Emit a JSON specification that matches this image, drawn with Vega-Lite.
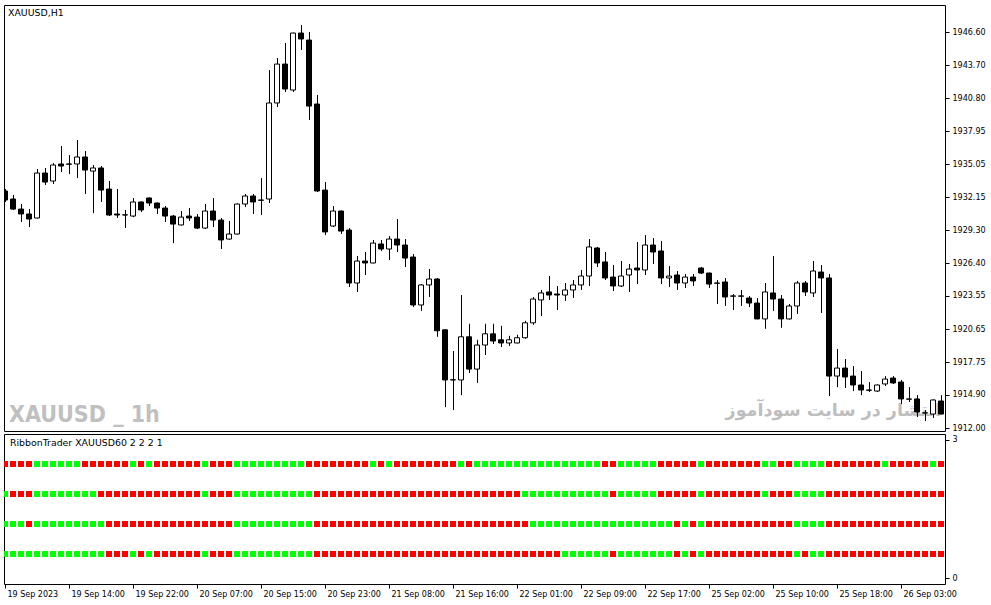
{
"$schema": "https://vega.github.io/schema/vega-lite/v6.json",
"background": "white",
"padding": {"left": 3, "top": 4, "right": 0, "bottom": 0},
"spacing": 3,
"bounds": "flush",
"config": {
  "view": {"stroke": "black", "strokeWidth": 1},
  "font": "DejaVu Sans",
  "axis": {"labelFont": "DejaVu Sans", "labelFontSize": 8, "labelColor": "black", "tickColor": "black", "tickSize": 4, "domain": false, "grid": false, "labelPadding": 3, "labelOverlap": false, "labelBound": false, "labelFlush": false},
  "title": {"font": "DejaVu Sans", "fontSize": 9.4, "fontWeight": "normal", "color": "black", "anchor": "start"}
},
"datasets": {
  "notes": [
    {"i": 0.5, "p": 1912.52, "label": "XAUUSD _ 1h"}
  ],
  "notes2": [
    {"i": 117.0, "p": 1913.49, "label": "انتشار در سایت سودآموز"}
  ],
  "bars": [
{"i":0,"o":1932.71,"h":1932.88,"l":1931.75,"c":1931.92,"s1":"R","s2":"G","s3":"G","s4":"G"},
{"i":1,"o":1932.01,"h":1932.36,"l":1931.05,"c":1931.13,"s1":"R","s2":"R","s3":"G","s4":"G"},
{"i":2,"o":1931.13,"h":1931.57,"l":1930.00,"c":1930.70,"s1":"R","s2":"R","s3":"G","s4":"G"},
{"i":3,"o":1930.70,"h":1931.13,"l":1929.56,"c":1930.26,"s1":"R","s2":"R","s3":"R","s4":"G"},
{"i":4,"o":1930.35,"h":1934.63,"l":1930.30,"c":1934.28,"s1":"G","s2":"G","s3":"G","s4":"G"},
{"i":5,"o":1934.28,"h":1934.72,"l":1933.23,"c":1933.49,"s1":"G","s2":"G","s3":"G","s4":"G"},
{"i":6,"o":1933.58,"h":1935.15,"l":1933.32,"c":1934.98,"s1":"G","s2":"G","s3":"G","s4":"G"},
{"i":7,"o":1935.07,"h":1936.64,"l":1934.37,"c":1934.89,"s1":"G","s2":"G","s3":"G","s4":"G"},
{"i":8,"o":1935.07,"h":1935.85,"l":1934.19,"c":1935.05,"s1":"G","s2":"G","s3":"G","s4":"G"},
{"i":9,"o":1935.07,"h":1937.16,"l":1933.84,"c":1935.68,"s1":"G","s2":"G","s3":"G","s4":"G"},
{"i":10,"o":1935.68,"h":1936.20,"l":1932.45,"c":1934.54,"s1":"R","s2":"G","s3":"G","s4":"G"},
{"i":11,"o":1934.45,"h":1934.98,"l":1930.78,"c":1934.72,"s1":"R","s2":"G","s3":"G","s4":"G"},
{"i":12,"o":1934.72,"h":1934.89,"l":1931.75,"c":1932.79,"s1":"R","s2":"R","s3":"G","s4":"G"},
{"i":13,"o":1932.88,"h":1933.58,"l":1930.52,"c":1930.61,"s1":"R","s2":"R","s3":"R","s4":"R"},
{"i":14,"o":1930.70,"h":1932.88,"l":1930.35,"c":1930.61,"s1":"R","s2":"R","s3":"R","s4":"R"},
{"i":15,"o":1930.61,"h":1931.05,"l":1929.47,"c":1930.63,"s1":"R","s2":"R","s3":"R","s4":"R"},
{"i":16,"o":1930.52,"h":1932.10,"l":1930.43,"c":1931.75,"s1":"G","s2":"R","s3":"R","s4":"G"},
{"i":17,"o":1931.75,"h":1931.80,"l":1930.87,"c":1931.05,"s1":"R","s2":"R","s3":"R","s4":"R"},
{"i":18,"o":1932.10,"h":1932.15,"l":1931.40,"c":1931.66,"s1":"G","s2":"R","s3":"R","s4":"G"},
{"i":19,"o":1931.66,"h":1931.70,"l":1930.70,"c":1931.22,"s1":"R","s2":"R","s3":"R","s4":"R"},
{"i":20,"o":1931.22,"h":1931.40,"l":1930.00,"c":1930.52,"s1":"R","s2":"R","s3":"R","s4":"R"},
{"i":21,"o":1930.52,"h":1930.61,"l":1928.16,"c":1929.82,"s1":"R","s2":"R","s3":"R","s4":"R"},
{"i":22,"o":1929.74,"h":1930.96,"l":1929.70,"c":1930.43,"s1":"R","s2":"R","s3":"R","s4":"R"},
{"i":23,"o":1930.52,"h":1931.22,"l":1930.09,"c":1930.35,"s1":"R","s2":"R","s3":"R","s4":"R"},
{"i":24,"o":1930.43,"h":1930.70,"l":1929.39,"c":1929.47,"s1":"R","s2":"R","s3":"R","s4":"R"},
{"i":25,"o":1929.47,"h":1931.57,"l":1929.39,"c":1930.96,"s1":"G","s2":"G","s3":"R","s4":"G"},
{"i":26,"o":1930.96,"h":1932.10,"l":1929.56,"c":1930.17,"s1":"R","s2":"R","s3":"R","s4":"R"},
{"i":27,"o":1930.17,"h":1930.35,"l":1927.64,"c":1928.43,"s1":"R","s2":"R","s3":"R","s4":"R"},
{"i":28,"o":1928.51,"h":1930.09,"l":1928.45,"c":1928.95,"s1":"R","s2":"R","s3":"R","s4":"R"},
{"i":29,"o":1928.95,"h":1931.62,"l":1928.90,"c":1931.57,"s1":"G","s2":"G","s3":"G","s4":"G"},
{"i":30,"o":1931.57,"h":1932.45,"l":1931.31,"c":1932.27,"s1":"G","s2":"G","s3":"G","s4":"G"},
{"i":31,"o":1932.27,"h":1932.45,"l":1930.70,"c":1931.75,"s1":"G","s2":"G","s3":"G","s4":"G"},
{"i":32,"o":1931.92,"h":1933.84,"l":1930.61,"c":1931.90,"s1":"G","s2":"G","s3":"G","s4":"G"},
{"i":33,"o":1932.01,"h":1943.28,"l":1931.66,"c":1940.40,"s1":"G","s2":"G","s3":"G","s4":"G"},
{"i":34,"o":1940.40,"h":1944.33,"l":1940.05,"c":1943.80,"s1":"G","s2":"G","s3":"G","s4":"G"},
{"i":35,"o":1943.80,"h":1945.64,"l":1941.36,"c":1941.62,"s1":"G","s2":"G","s3":"G","s4":"G"},
{"i":36,"o":1941.53,"h":1946.55,"l":1941.36,"c":1946.51,"s1":"G","s2":"G","s3":"G","s4":"G"},
{"i":37,"o":1946.51,"h":1947.21,"l":1945.03,"c":1945.99,"s1":"G","s2":"G","s3":"G","s4":"G"},
{"i":38,"o":1945.90,"h":1946.60,"l":1938.91,"c":1940.13,"s1":"R","s2":"G","s3":"G","s4":"G"},
{"i":39,"o":1940.31,"h":1941.10,"l":1932.62,"c":1932.71,"s1":"R","s2":"R","s3":"R","s4":"R"},
{"i":40,"o":1932.79,"h":1933.49,"l":1928.86,"c":1929.13,"s1":"R","s2":"R","s3":"R","s4":"R"},
{"i":41,"o":1929.65,"h":1931.40,"l":1929.56,"c":1930.96,"s1":"R","s2":"R","s3":"R","s4":"R"},
{"i":42,"o":1930.96,"h":1931.00,"l":1928.95,"c":1929.21,"s1":"R","s2":"R","s3":"R","s4":"R"},
{"i":43,"o":1929.30,"h":1929.47,"l":1924.32,"c":1924.67,"s1":"R","s2":"R","s3":"R","s4":"R"},
{"i":44,"o":1924.67,"h":1927.03,"l":1923.89,"c":1926.59,"s1":"R","s2":"R","s3":"R","s4":"R"},
{"i":45,"o":1926.59,"h":1927.38,"l":1925.37,"c":1926.42,"s1":"R","s2":"R","s3":"R","s4":"R"},
{"i":46,"o":1926.42,"h":1928.43,"l":1926.38,"c":1928.16,"s1":"G","s2":"R","s3":"R","s4":"R"},
{"i":47,"o":1928.08,"h":1928.43,"l":1927.47,"c":1927.64,"s1":"R","s2":"R","s3":"R","s4":"R"},
{"i":48,"o":1927.64,"h":1928.77,"l":1926.68,"c":1928.51,"s1":"G","s2":"R","s3":"R","s4":"R"},
{"i":49,"o":1928.51,"h":1930.26,"l":1927.38,"c":1927.99,"s1":"R","s2":"R","s3":"R","s4":"R"},
{"i":50,"o":1927.99,"h":1928.51,"l":1926.07,"c":1926.85,"s1":"R","s2":"R","s3":"R","s4":"R"},
{"i":51,"o":1926.94,"h":1927.20,"l":1922.57,"c":1922.75,"s1":"R","s2":"R","s3":"R","s4":"R"},
{"i":52,"o":1922.75,"h":1924.58,"l":1922.23,"c":1924.50,"s1":"R","s2":"R","s3":"R","s4":"R"},
{"i":53,"o":1924.50,"h":1925.89,"l":1923.45,"c":1925.02,"s1":"R","s2":"R","s3":"R","s4":"R"},
{"i":54,"o":1925.02,"h":1925.11,"l":1919.97,"c":1920.50,"s1":"R","s2":"R","s3":"R","s4":"R"},
{"i":55,"o":1920.58,"h":1920.62,"l":1913.83,"c":1916.20,"s1":"R","s2":"R","s3":"R","s4":"R"},
{"i":56,"o":1916.20,"h":1918.73,"l":1913.57,"c":1916.22,"s1":"R","s2":"R","s3":"R","s4":"R"},
{"i":57,"o":1916.20,"h":1923.62,"l":1914.88,"c":1919.97,"s1":"G","s2":"R","s3":"R","s4":"R"},
{"i":58,"o":1919.97,"h":1921.11,"l":1916.80,"c":1917.15,"s1":"R","s2":"R","s3":"R","s4":"R"},
{"i":59,"o":1917.15,"h":1919.71,"l":1915.94,"c":1919.25,"s1":"G","s2":"R","s3":"R","s4":"R"},
{"i":60,"o":1919.25,"h":1921.11,"l":1918.38,"c":1920.23,"s1":"G","s2":"R","s3":"R","s4":"R"},
{"i":61,"o":1920.23,"h":1921.11,"l":1919.34,"c":1919.60,"s1":"G","s2":"R","s3":"R","s4":"R"},
{"i":62,"o":1919.71,"h":1920.93,"l":1919.08,"c":1919.43,"s1":"G","s2":"R","s3":"R","s4":"R"},
{"i":63,"o":1919.43,"h":1920.06,"l":1919.17,"c":1919.71,"s1":"G","s2":"R","s3":"R","s4":"R"},
{"i":64,"o":1919.43,"h":1920.15,"l":1919.40,"c":1919.89,"s1":"G","s2":"R","s3":"R","s4":"R"},
{"i":65,"o":1919.89,"h":1921.37,"l":1919.80,"c":1921.19,"s1":"G","s2":"G","s3":"R","s4":"R"},
{"i":66,"o":1921.19,"h":1923.45,"l":1921.02,"c":1923.27,"s1":"G","s2":"G","s3":"G","s4":"R"},
{"i":67,"o":1923.19,"h":1924.06,"l":1921.79,"c":1923.80,"s1":"G","s2":"G","s3":"G","s4":"R"},
{"i":68,"o":1923.89,"h":1925.28,"l":1923.19,"c":1923.62,"s1":"G","s2":"G","s3":"G","s4":"R"},
{"i":69,"o":1923.71,"h":1924.41,"l":1922.31,"c":1923.62,"s1":"G","s2":"G","s3":"G","s4":"R"},
{"i":70,"o":1923.62,"h":1924.67,"l":1923.10,"c":1924.06,"s1":"G","s2":"G","s3":"G","s4":"G"},
{"i":71,"o":1924.06,"h":1924.93,"l":1923.36,"c":1924.50,"s1":"G","s2":"G","s3":"G","s4":"G"},
{"i":72,"o":1924.50,"h":1925.81,"l":1924.06,"c":1925.28,"s1":"G","s2":"G","s3":"G","s4":"G"},
{"i":73,"o":1925.28,"h":1928.51,"l":1924.41,"c":1927.82,"s1":"G","s2":"G","s3":"G","s4":"G"},
{"i":74,"o":1927.73,"h":1927.82,"l":1926.07,"c":1926.42,"s1":"G","s2":"G","s3":"G","s4":"G"},
{"i":75,"o":1926.51,"h":1927.38,"l":1924.93,"c":1925.11,"s1":"R","s2":"G","s3":"G","s4":"G"},
{"i":76,"o":1925.19,"h":1926.24,"l":1923.97,"c":1924.41,"s1":"R","s2":"R","s3":"G","s4":"R"},
{"i":77,"o":1924.41,"h":1926.59,"l":1924.32,"c":1925.28,"s1":"G","s2":"G","s3":"G","s4":"G"},
{"i":78,"o":1925.37,"h":1926.33,"l":1923.89,"c":1925.89,"s1":"G","s2":"G","s3":"G","s4":"G"},
{"i":79,"o":1925.98,"h":1928.25,"l":1924.58,"c":1925.81,"s1":"G","s2":"G","s3":"G","s4":"G"},
{"i":80,"o":1925.81,"h":1928.86,"l":1925.37,"c":1927.99,"s1":"G","s2":"G","s3":"G","s4":"G"},
{"i":81,"o":1927.99,"h":1928.60,"l":1926.33,"c":1927.38,"s1":"G","s2":"G","s3":"G","s4":"G"},
{"i":82,"o":1927.47,"h":1928.34,"l":1924.58,"c":1925.11,"s1":"R","s2":"R","s3":"G","s4":"G"},
{"i":83,"o":1925.11,"h":1926.15,"l":1924.32,"c":1925.28,"s1":"R","s2":"R","s3":"G","s4":"G"},
{"i":84,"o":1925.37,"h":1925.72,"l":1924.06,"c":1924.67,"s1":"R","s2":"R","s3":"R","s4":"R"},
{"i":85,"o":1924.67,"h":1925.46,"l":1924.24,"c":1925.19,"s1":"R","s2":"R","s3":"G","s4":"G"},
{"i":86,"o":1925.19,"h":1925.46,"l":1924.41,"c":1924.85,"s1":"R","s2":"R","s3":"R","s4":"R"},
{"i":87,"o":1925.98,"h":1926.07,"l":1925.46,"c":1925.54,"s1":"G","s2":"G","s3":"G","s4":"G"},
{"i":88,"o":1925.54,"h":1925.58,"l":1924.24,"c":1924.58,"s1":"R","s2":"R","s3":"R","s4":"R"},
{"i":89,"o":1924.67,"h":1924.93,"l":1922.84,"c":1924.65,"s1":"R","s2":"R","s3":"R","s4":"R"},
{"i":90,"o":1924.76,"h":1925.11,"l":1922.66,"c":1923.45,"s1":"R","s2":"R","s3":"R","s4":"R"},
{"i":91,"o":1923.54,"h":1923.71,"l":1922.31,"c":1923.52,"s1":"R","s2":"R","s3":"R","s4":"R"},
{"i":92,"o":1923.54,"h":1924.06,"l":1922.66,"c":1923.52,"s1":"R","s2":"R","s3":"R","s4":"R"},
{"i":93,"o":1923.36,"h":1923.54,"l":1922.57,"c":1922.92,"s1":"R","s2":"R","s3":"R","s4":"R"},
{"i":94,"o":1922.92,"h":1923.36,"l":1921.50,"c":1921.53,"s1":"R","s2":"R","s3":"R","s4":"R"},
{"i":95,"o":1921.53,"h":1924.67,"l":1920.67,"c":1923.89,"s1":"G","s2":"G","s3":"R","s4":"R"},
{"i":96,"o":1923.80,"h":1927.03,"l":1922.23,"c":1923.27,"s1":"G","s2":"R","s3":"R","s4":"R"},
{"i":97,"o":1923.27,"h":1923.62,"l":1920.76,"c":1921.53,"s1":"R","s2":"R","s3":"R","s4":"R"},
{"i":98,"o":1921.53,"h":1922.84,"l":1921.47,"c":1922.66,"s1":"R","s2":"R","s3":"R","s4":"R"},
{"i":99,"o":1922.66,"h":1924.85,"l":1921.96,"c":1924.67,"s1":"G","s2":"G","s3":"G","s4":"G"},
{"i":100,"o":1924.67,"h":1924.85,"l":1923.54,"c":1923.89,"s1":"G","s2":"G","s3":"G","s4":"R"},
{"i":101,"o":1923.80,"h":1926.59,"l":1923.45,"c":1925.72,"s1":"G","s2":"G","s3":"G","s4":"G"},
{"i":102,"o":1925.63,"h":1926.24,"l":1922.05,"c":1925.11,"s1":"G","s2":"G","s3":"G","s4":"G"},
{"i":103,"o":1925.11,"h":1925.46,"l":1914.80,"c":1916.54,"s1":"R","s2":"R","s3":"R","s4":"R"},
{"i":104,"o":1916.54,"h":1918.90,"l":1915.58,"c":1917.24,"s1":"R","s2":"R","s3":"R","s4":"R"},
{"i":105,"o":1917.24,"h":1918.03,"l":1915.50,"c":1916.46,"s1":"R","s2":"R","s3":"R","s4":"R"},
{"i":106,"o":1916.54,"h":1917.42,"l":1915.23,"c":1915.76,"s1":"R","s2":"R","s3":"R","s4":"R"},
{"i":107,"o":1915.76,"h":1916.98,"l":1914.88,"c":1915.32,"s1":"R","s2":"R","s3":"R","s4":"R"},
{"i":108,"o":1915.32,"h":1916.02,"l":1915.15,"c":1915.30,"s1":"R","s2":"R","s3":"R","s4":"R"},
{"i":109,"o":1915.23,"h":1915.80,"l":1915.15,"c":1915.76,"s1":"R","s2":"R","s3":"R","s4":"R"},
{"i":110,"o":1915.85,"h":1916.54,"l":1915.67,"c":1916.28,"s1":"G","s2":"R","s3":"R","s4":"R"},
{"i":111,"o":1916.37,"h":1916.54,"l":1915.85,"c":1915.94,"s1":"R","s2":"R","s3":"R","s4":"R"},
{"i":112,"o":1916.02,"h":1916.20,"l":1914.10,"c":1914.54,"s1":"R","s2":"R","s3":"R","s4":"R"},
{"i":113,"o":1914.54,"h":1915.58,"l":1914.27,"c":1914.52,"s1":"R","s2":"R","s3":"R","s4":"R"},
{"i":114,"o":1914.54,"h":1914.88,"l":1912.96,"c":1913.40,"s1":"R","s2":"R","s3":"R","s4":"R"},
{"i":115,"o":1913.31,"h":1913.57,"l":1912.61,"c":1913.33,"s1":"R","s2":"R","s3":"R","s4":"R"},
{"i":116,"o":1913.22,"h":1914.50,"l":1912.88,"c":1914.45,"s1":"G","s2":"R","s3":"R","s4":"R"},
{"i":117,"o":1914.36,"h":1914.88,"l":1913.20,"c":1913.22,"s1":"R","s2":"R","s3":"R","s4":"R"}
  ]
},
"vconcat": [
  {
    "width": 941,
    "height": 426,
    "title": {"text": "XAUUSD,H1", "orient": "top", "offset": -13, "dx": 4},
    "layer": [
      {
        "data": {"name": "notes"},
        "mark": {"type": "text", "align": "left", "baseline": "alphabetic", "font": "Liberation Sans Narrow, DejaVu Sans Condensed, DejaVu Sans", "fontWeight": "bold", "fontSize": 23, "color": "#c0c0c0", "clip": true},
        "encoding": {
          "x": {"field": "i", "type": "quantitative", "scale": {"domain": [-0.125, 117.5], "nice": false, "zero": false, "padding": 0}, "axis": null},
          "y": {"field": "p", "type": "quantitative", "scale": {"domain": [1911.74, 1948.96], "nice": false, "zero": false, "padding": 0}},
          "text": {"field": "label"}
        }
      },
      {
        "data": {"name": "notes2"},
        "mark": {"type": "text", "align": "right", "baseline": "middle", "font": "DejaVu Sans", "fontWeight": "bold", "fontSize": 17.5, "color": "#bebebe", "clip": true},
        "encoding": {
          "x": {"field": "i", "type": "quantitative"},
          "y": {"field": "p", "type": "quantitative"},
          "text": {"field": "label"}
        }
      },
      {
        "data": {"name": "bars"},
        "mark": {"type": "rule", "color": "black", "strokeWidth": 1, "xOffset": 0.5, "clip": true},
        "encoding": {
          "x": {"field": "i", "type": "quantitative"},
          "y": {"field": "l", "type": "quantitative"},
          "y2": {"field": "h"}
        }
      },
      {
        "data": {"name": "bars"},
        "mark": {"type": "bar", "width": 5, "stroke": "black", "strokeWidth": 1, "clip": true},
        "encoding": {
          "x": {"field": "i", "type": "quantitative"},
          "y": {"field": "o", "type": "quantitative", "axis": {"orient": "right", "values": [1912.00, 1914.90, 1917.75, 1920.65, 1923.55, 1926.40, 1929.30, 1932.15, 1935.05, 1937.95, 1940.80, 1943.70, 1946.60], "tickCount": 30, "format": ".2f", "title": null, "labelOverlap": false}},
          "y2": {"field": "c"},
          "fill": {"condition": {"test": "datum.c >= datum.o", "value": "white"}, "value": "black"}
        }
      }
    ]
  },
  {
    "width": 941,
    "height": 150,
    "title": {"text": "RibbonTrader XAUUSD60 2 2 2 1", "orient": "top", "offset": -14, "dx": 6},
    "data": {"name": "bars"},
    "encoding": {
      "x": {"field": "i", "type": "quantitative", "scale": {"domain": [-0.125, 117.5], "nice": false, "zero": false, "padding": 0},
        "axis": {"values": [0, 8, 16, 24, 32, 40, 48, 56, 64, 72, 80, 88, 96, 104, 112], "tickCount": 30, "labelAlign": "left", "labelPadding": 2, "labelOffset": 2, "title": null, "labelOverlap": false,
          "labelExpr": "['19 Sep 2023','19 Sep 14:00','19 Sep 22:00','20 Sep 07:00','20 Sep 15:00','20 Sep 23:00','21 Sep 08:00','21 Sep 16:00','22 Sep 01:00','22 Sep 09:00','22 Sep 17:00','25 Sep 02:00','25 Sep 10:00','25 Sep 18:00','26 Sep 03:00'][round(datum.value/8)]"}}
    },
    "layer": [
      {
        "mark": {"type": "square", "size": 36, "opacity": 1, "filled": true, "clip": true},
        "encoding": {
          "y": {"datum": 2.478, "type": "quantitative", "scale": {"domain": [-0.13, 3.13], "nice": false, "zero": false, "padding": 0}, "axis": {"orient": "right", "values": [0, 3], "format": "d", "title": null}},
          "color": {"field": "s1", "type": "nominal", "scale": {"domain": ["R", "G"], "range": ["#ff0000", "#00ff00"]}, "legend": null}
        }
      },
      {
        "mark": {"type": "square", "size": 36, "opacity": 1, "filled": true, "clip": true},
        "encoding": {
          "y": {"datum": 1.826, "type": "quantitative"},
          "color": {"field": "s2", "type": "nominal", "legend": null}
        }
      },
      {
        "mark": {"type": "square", "size": 36, "opacity": 1, "filled": true, "clip": true},
        "encoding": {
          "y": {"datum": 1.174, "type": "quantitative"},
          "color": {"field": "s3", "type": "nominal", "legend": null}
        }
      },
      {
        "mark": {"type": "square", "size": 36, "opacity": 1, "filled": true, "clip": true},
        "encoding": {
          "y": {"datum": 0.522, "type": "quantitative"},
          "color": {"field": "s4", "type": "nominal", "legend": null}
        }
      }
    ]
  }
]
}
